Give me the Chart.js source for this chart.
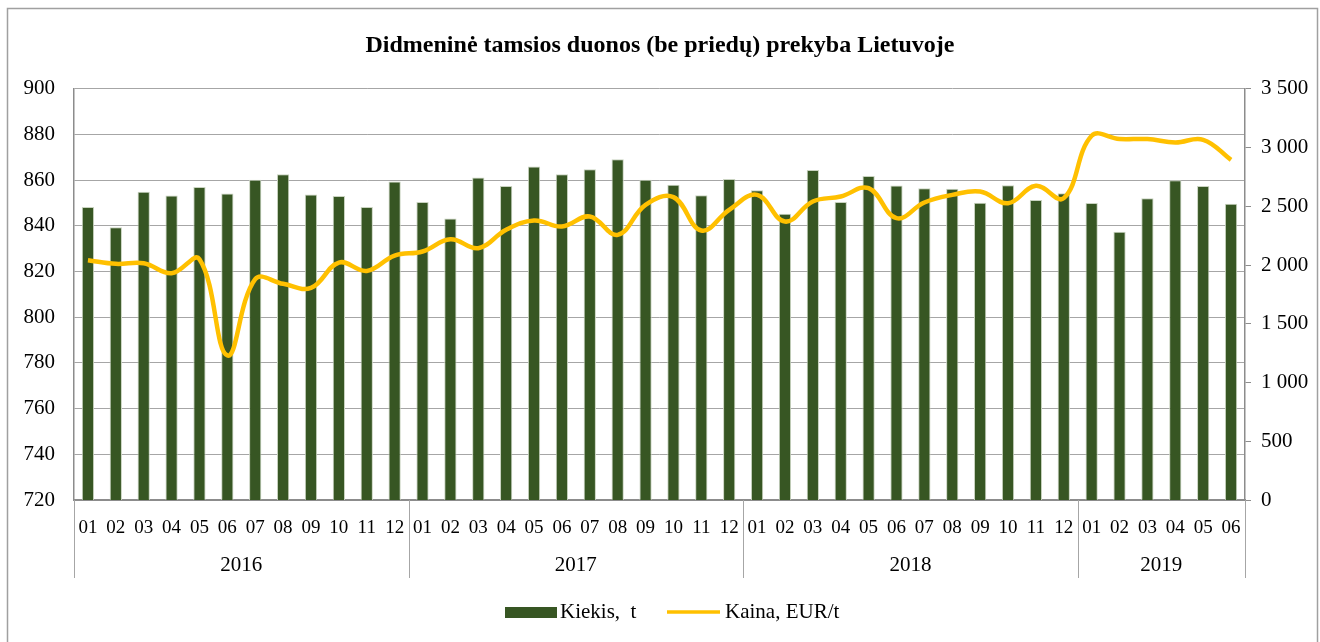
<!DOCTYPE html>
<html>
<head>
<meta charset="utf-8">
<script src="https://cdn.jsdelivr.net/npm/chart.js@4.4.1/dist/chart.umd.min.js"></script>
<style>
  html, body { margin: 0; padding: 0; background: #fff; }
  #wrap { width: 1320px; height: 642px; position: relative; }
</style>
</head>
<body>
<div id="wrap"><canvas id="c" width="1320" height="642"></canvas></div>
<script>
const titleText = 'Didmeninė tamsios duonos (be priedų) prekyba Lietuvoje';
const months = ['01','02','03','04','05','06','07','08','09','10','11','12',
                '01','02','03','04','05','06','07','08','09','10','11','12',
                '01','02','03','04','05','06','07','08','09','10','11','12',
                '01','02','03','04','05','06'];
const years = ['2016', '2017', '2018', '2019'];
const yearSpans = [12, 12, 12, 6];
const kiekisLabel = 'Kiekis,  t';
const kainaLabel = 'Kaina, EUR/t';
const kiekis = [848.3, 839.4, 854.9, 853.3, 857.0, 854.2, 860.2, 862.6, 853.7, 853.1, 848.3, 859.4,
                850.5, 843.2, 861.2, 857.5, 866.0, 862.6, 864.8, 869.2, 860.2, 858.0, 853.4, 860.5,
                855.6, 845.3, 864.5, 850.5, 861.8, 857.7, 856.5, 856.2, 850.1, 857.8, 851.3, 854.3,
                850.0, 837.4, 852.1, 860.0, 857.5, 849.7];
const kaina = [2041, 2010, 2015, 1930, 2050, 1230, 1880, 1840, 1805, 2021, 1950, 2080,
               2115, 2220, 2143, 2300, 2379, 2328, 2413, 2257, 2512, 2578, 2294, 2470,
               2597, 2370, 2541, 2583, 2654, 2399, 2532, 2597, 2626, 2526, 2674, 2569,
               3100, 3072, 3072, 3043, 3066, 2895];
const leftTicks = { min: 720, max: 900, step: 20 };
const rightTicks = { min: 0, max: 3500, step: 500 };

const FONT = 'Liberation Serif, Times New Roman, serif';
const GREEN = '#375623';
const YELLOW = '#FFC000';
const GRID = '#a6a6a6';
const AXIS = '#8c8c8c';

function fmt(v) { return String(v).replace(/\B(?=(\d{3})+$)/g, ' '); }

const extras = {
  id: 'extras',
  beforeDraw(chart) {
    const ctx = chart.ctx;
    ctx.save();
    ctx.fillStyle = '#fff';
    ctx.fillRect(0, 0, chart.width, chart.height);
    ctx.restore();
  },
  afterDraw(chart) {
    const ctx = chart.ctx;
    const x = chart.scales.x;
    const area = chart.chartArea;
    const bottom = x.bottom;
    ctx.save();
    // year separators and labels
    ctx.strokeStyle = '#a6a6a6';
    ctx.lineWidth = 1;
    let idx = 0;
    const half = (x.getPixelForValue(1) - x.getPixelForValue(0)) / 2;
    const bounds = [area.left];
    yearSpans.forEach(s => { idx += s; bounds.push(x.getPixelForValue(idx - 1) + half); });
    bounds.forEach(b => {
      const bx = Math.round(b) + 0.5;
      ctx.beginPath();
      ctx.moveTo(bx, area.bottom);
      ctx.lineTo(bx, bottom);
      ctx.stroke();
    });
    ctx.fillStyle = '#000';
    ctx.font = '21px ' + FONT;
    ctx.textAlign = 'center';
    ctx.textBaseline = 'middle';
    years.forEach((y, i) => {
      ctx.fillText(y, (bounds[i] + bounds[i + 1]) / 2, 565);
    });
    // legend
    const ly = 612;
    ctx.fillStyle = GREEN;
    ctx.fillRect(505, ly - 5, 52, 11);
    ctx.fillStyle = '#000';
    ctx.textAlign = 'left';
    ctx.fillText(kiekisLabel, 560, ly);
    ctx.strokeStyle = YELLOW;
    ctx.lineWidth = 3.5;
    ctx.beginPath();
    ctx.moveTo(667, ly);
    ctx.lineTo(720, ly);
    ctx.stroke();
    ctx.fillText(kainaLabel, 725, ly);
    // outer frame
    ctx.strokeStyle = '#a0a0a0';
    ctx.lineWidth = 1.5;
    ctx.strokeRect(7.5, 8.5, 1310, 645);
    ctx.restore();
  }
};

new Chart(document.getElementById('c'), {
  data: {
    labels: months,
    datasets: [
      {
        type: 'line',
        label: kainaLabel,
        data: kaina,
        yAxisID: 'y2',
        borderColor: YELLOW,
        backgroundColor: YELLOW,
        borderWidth: 4.5,
        pointRadius: 0,
        tension: 0.4,
        order: 0
      },
      {
        type: 'bar',
        label: kiekisLabel,
        data: kiekis,
        yAxisID: 'y',
        backgroundColor: GREEN,
        borderColor: '#c9d3c0',
        borderWidth: 1,
        categoryPercentage: 1,
        barPercentage: 0.44,
        order: 1
      }
    ]
  },
  options: {
    responsive: false,
    animation: false,
    layout: { padding: { top: 0, bottom: 64, left: 0, right: 0 } },
    plugins: {
      legend: { display: false },
      tooltip: { enabled: false },
      title: {
        display: true,
        text: titleText,
        color: '#000',
        font: { family: FONT, size: 24, weight: 'bold' },
        padding: { top: 31, bottom: 29 }
      }
    },
    scales: {
      x: {
        type: 'category',
        grid: { display: false },
        border: { display: true, color: AXIS, width: 2 },
        ticks: {
          autoSkip: false, maxRotation: 0, minRotation: 0,
          color: '#000', font: { family: FONT, size: 19 }, padding: 9
        },
        afterFit(s) { s.height = 78; }
      },
      y: {
        position: 'left',
        min: leftTicks.min, max: leftTicks.max,
        grid: { color: GRID, lineWidth: 1, drawTicks: false },
        border: { display: true, color: AXIS, width: 1.5 },
        ticks: {
          stepSize: leftTicks.step, color: '#000',
          font: { family: FONT, size: 21 }, padding: 19
        },
        afterFit(s) { s.width = 74; }
      },
      y2: {
        position: 'right',
        min: rightTicks.min, max: rightTicks.max,
        grid: { drawOnChartArea: false, drawTicks: true, tickLength: 6, color: AXIS },
        border: { display: true, color: AXIS, width: 1.5 },
        ticks: {
          stepSize: rightTicks.step, color: '#000',
          font: { family: FONT, size: 21 }, padding: 10,
          callback: v => fmt(v)
        },
        afterFit(s) { s.width = 75; }
      }
    }
  },
  plugins: [extras]
});
</script>
</body>
</html>
